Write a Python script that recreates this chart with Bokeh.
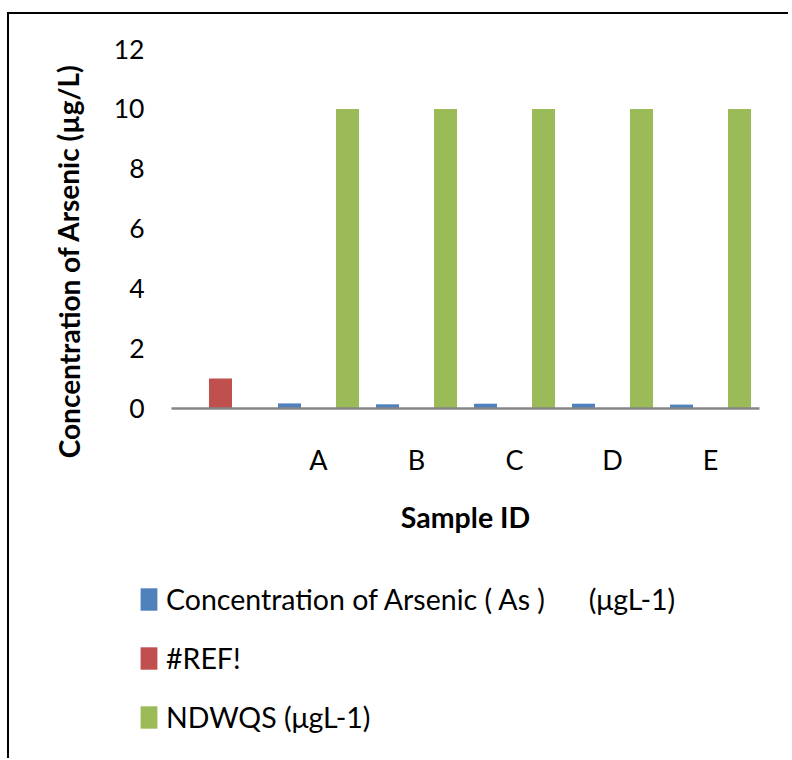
from bokeh.plotting import figure
from bokeh.models import (ColumnDataSource, Range1d, Legend, LegendItem, Label,
                          FixedTicker, BoxAnnotation)
from bokeh.transform import dodge
from bokeh.embed import file_html
from bokeh.resources import INLINE

# ---- data ----
categories = [" ", "A", "B", "C", "D", "E"]
arsenic = [None, 0.17, 0.14, 0.16, 0.16, 0.13]
ref_err = [1.0, None, None, None, None, None]
ndwqs = [None, 10, 10, 10, 10, 10]
y_ticks = [0, 2, 4, 6, 8, 10, 12]
series_names = [
    "Concentration of Arsenic ( As )\u00a0\u00a0\u00a0\u00a0\u00a0\u00a0(\u03bcgL-1)",
    "#REF!",
    "NDWQS (\u03bcgL-1)",
]
colors = ["#4F81BD", "#C0504D", "#9BBB59"]
y_title = "Concentration of Arsenic (\u00b5g/L)"
x_title = "Sample ID"

FONT = "Lato"

# ---- layout geometry (page pixels) ----
OX, OY = 1, 1.5            # where the figure's top-left lands in the picture
W, H = 788, 758
PX0, PX_PER_CAT = 172, 98  # left end of category axis, width of one category
PY0, PY12 = 409.5, 50      # page y of value 0 and of value 12
ppu = (PY0 - PY12) / 12.0


def x_of(page_x):
    return (page_x - PX0) / PX_PER_CAT


def y_of(page_y):
    return (PY0 - page_y) / ppu


n = len(categories)
xpos = [i + 0.5 for i in range(n)]
src = ColumnDataSource(dict(x=xpos, cat=categories, arsenic=arsenic, ref=ref_err, ndwqs=ndwqs))

p = figure(
    x_range=Range1d(x_of(OX), x_of(OX + W)),
    y_range=Range1d(y_of(OY + H), y_of(OY)),
    width=W, height=H,
    min_border=0, min_border_left=0, min_border_right=0, min_border_top=0, min_border_bottom=0,
    output_backend="svg", toolbar_location=None,
)
p.outline_line_color = None
p.xgrid.visible = False
p.ygrid.visible = False
p.background_fill_color = "white"
p.border_fill_color = "white"

bw = 0.235
off = 0.296
r1 = p.vbar(x=dodge("x", -off), top="arsenic", width=bw, source=src,
            fill_color=colors[0], line_color=None)
r2 = p.vbar(x=dodge("x", 0.0), top="ref", width=bw, source=src,
            fill_color=colors[1], line_color=None)
r3 = p.vbar(x=dodge("x", off), top="ndwqs", width=bw, source=src,
            fill_color=colors[2], line_color=None)

# y axis
yax = p.yaxis[0]
yax.fixed_location = 0
yax.bounds = (0, 12)
yax.ticker = FixedTicker(ticks=y_ticks)
yax.axis_line_color = None
yax.major_tick_line_color = None
yax.minor_tick_line_color = None
yax.major_tick_out = 0
yax.major_tick_in = 0
yax.minor_tick_out = 0
yax.major_label_standoff = 27
yax.major_label_text_font = FONT
yax.major_label_text_font_size = "26.5px"
yax.major_label_text_color = "black"

# x axis
xax = p.xaxis[0]
xax.fixed_location = 0
xax.bounds = (0, n)
xax.ticker = FixedTicker(ticks=xpos)
xax.major_label_overrides = {x: c for x, c in zip(xpos, categories)}
xax.axis_line_color = "#868686"
xax.axis_line_width = 2.5
xax.major_tick_line_color = None
xax.minor_tick_line_color = None
xax.major_tick_out = 0
xax.major_tick_in = 0
xax.minor_tick_out = 0
xax.major_label_standoff = 34
xax.major_label_text_font = FONT
xax.major_label_text_font_size = "27px"
xax.major_label_text_color = "black"
xax.axis_label = x_title
xax.axis_label_standoff = 21
xax.axis_label_text_font = FONT
xax.axis_label_text_font_size = "28.5px"
xax.axis_label_text_font_style = "bold"
xax.axis_label_text_color = "black"

# y title
yl = Label(x=x_of(69), y=y_of(262), text=y_title, angle=1.5708, text_align="center",
           text_baseline="middle", text_font=FONT, text_font_size="28px",
           text_font_style="bold", text_color="black")
p.add_layout(yl)

legend = Legend(
    items=[LegendItem(label=series_names[0], renderers=[r1]),
           LegendItem(label=series_names[1], renderers=[r2]),
           LegendItem(label=series_names[2], renderers=[r3])],
    location=(139 - OX, (OY + H) - 735.5), orientation="vertical",
    glyph_width=21, glyph_height=28, label_standoff=7, spacing=25,
    padding=0, margin=0, border_line_color=None, background_fill_alpha=0,
    label_text_font=FONT, label_text_font_size="28.5px", label_height=30,
    label_text_color="black",
)
p.add_layout(legend)

# chart border: only its left and top edges fall inside the picture
left_edge = BoxAnnotation(left=x_of(7.5), right=x_of(9.5), top=y_of(13), bottom=y_of(2000),
                          fill_color="black", fill_alpha=1, line_color=None)
top_edge = BoxAnnotation(left=x_of(7.5), right=x_of(2000), top=y_of(13), bottom=y_of(15),
                         fill_color="black", fill_alpha=1, line_color=None)
p.add_layout(left_edge)
p.add_layout(top_edge)

open("out.html", "w").write(file_html(p, INLINE))
